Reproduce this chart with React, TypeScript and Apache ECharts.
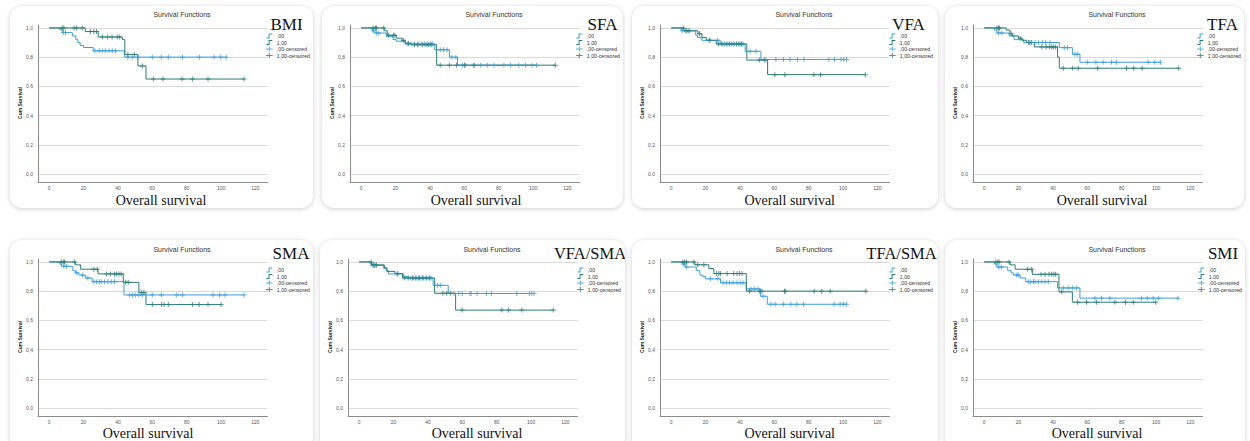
import React, { useEffect, useRef } from "react";
import * as echarts from "echarts";

const BLUE = "#3d9fd8";
const TEAL = "#2d7c78";

const xTicks = [0, 20, 40, 60, 80, 100, 120];
const yTicks = [0, 0.2, 0.4, 0.6, 0.8, 1.0];
const legendNames = [",00", "1,00", ",00-censored", "1,00-censored"];
const chartTitle = "Survival Functions";
const yName = "Cum Survival";
const xName = "Overall survival";

// BMI
const bmiSteps0 = [[0, 1], [6, 0.99], [7.5, 0.968], [13.5, 0.945], [15.5, 0.92], [16.7, 0.9], [18, 0.88], [20, 0.866], [25.6, 0.843], [43.9, 0.8], [103, 0.8]];
const bmiCens0 = [[8.3, 0.968], [9.5, 0.968], [26.6, 0.843], [29.1, 0.843], [30.9, 0.843], [32.6, 0.843], [34.8, 0.843], [36.7, 0.843], [38.6, 0.843], [45.8, 0.8], [48.3, 0.8], [51.7, 0.8], [60, 0.8], [65.2, 0.8], [69.3, 0.8], [77.5, 0.8], [87.4, 0.8], [95.9, 0.8], [99.8, 0.8], [103, 0.8]];
const bmiSteps1 = [[0, 1], [21, 0.975], [28.5, 0.938], [42.5, 0.92], [44, 0.818], [51.6, 0.74], [56.3, 0.65], [113.4, 0.65]];
const bmiCens1 = [[7.6, 1], [8.5, 1], [14.5, 1], [16, 1], [19.2, 1], [24, 0.975], [26, 0.975], [27.5, 0.975], [31, 0.938], [34, 0.938], [36.6, 0.938], [39.6, 0.938], [41, 0.938], [45.8, 0.818], [49.5, 0.818], [54.2, 0.74], [60.6, 0.65], [66.2, 0.65], [77.3, 0.65], [83.3, 0.65], [92.4, 0.65], [113.4, 0.65]];

// SFA
const sfaSteps0 = [[0, 1], [6.4, 0.98], [7.9, 0.965], [14.6, 0.94], [18.5, 0.92], [20.4, 0.909], [25.6, 0.89], [42.8, 0.85], [51.3, 0.8], [56, 0.745], [102, 0.745]];
const sfaCens0 = [[7, 0.98], [9, 0.965], [10.2, 0.965], [27.2, 0.89], [29.1, 0.89], [31, 0.89], [33, 0.89], [34.9, 0.89], [36.8, 0.89], [38.7, 0.89], [40.3, 0.89], [41.6, 0.89], [46, 0.85], [47.9, 0.85], [49.9, 0.85], [52.8, 0.8], [55.1, 0.8], [59, 0.745], [60.3, 0.745], [65.3, 0.745], [69.6, 0.745], [73.4, 0.745], [77.3, 0.745], [83, 0.745], [86.9, 0.745], [91.7, 0.745], [95.6, 0.745], [99.4, 0.745], [102, 0.745]];
const sfaSteps1 = [[0, 1], [13.7, 0.98], [15.2, 0.95], [20.4, 0.93], [23.7, 0.915], [25.6, 0.895], [29, 0.885], [43.9, 0.745], [112.9, 0.745]];
const sfaCens1 = [[6.9, 1], [8.3, 1], [8.9, 1], [13.1, 1], [16, 0.95], [18.7, 0.95], [19.6, 0.95], [24.5, 0.915], [27.5, 0.895], [31, 0.885], [33, 0.885], [35.8, 0.885], [37.8, 0.885], [39.3, 0.885], [40.7, 0.885], [46, 0.745], [51.3, 0.745], [55.5, 0.745], [60.3, 0.745], [65.7, 0.745], [112.9, 0.745]];

// VFA
const vfaSteps0 = [[0, 1], [6, 0.98], [14.3, 0.95], [15.3, 0.935], [17.9, 0.915], [28.5, 0.89], [43, 0.84], [52.2, 0.784], [102, 0.784]];
const vfaCens0 = [[6.4, 0.98], [8.3, 0.98], [9.8, 0.98], [22, 0.915], [27, 0.915], [29.5, 0.89], [31, 0.89], [33, 0.89], [35, 0.89], [37, 0.89], [39, 0.89], [40.5, 0.89], [41.8, 0.89], [46, 0.84], [49.3, 0.84], [55, 0.784], [60.9, 0.784], [65.3, 0.784], [69.2, 0.784], [73.4, 0.784], [77.3, 0.784], [91.7, 0.784], [95, 0.784], [98.8, 0.784], [100.4, 0.784], [102, 0.784]];
const vfaSteps1 = [[0, 1], [7.5, 0.98], [15.6, 0.96], [17.9, 0.935], [20.4, 0.915], [26.2, 0.89], [44, 0.78], [56.1, 0.68], [112.9, 0.68]];
const vfaCens1 = [[7, 1], [9, 0.98], [10.5, 0.98], [16.5, 0.96], [22.5, 0.915], [27.5, 0.89], [29.5, 0.89], [32, 0.89], [34, 0.89], [36, 0.89], [38, 0.89], [39.5, 0.89], [41, 0.89], [51.3, 0.78], [54.1, 0.78], [60.3, 0.68], [66.1, 0.68], [83, 0.68], [86.9, 0.68], [112.9, 0.68]];

// TFA
const tfaSteps0 = [[0, 1], [6, 0.985], [7.4, 0.965], [14.5, 0.945], [17.4, 0.92], [23, 0.9], [43.7, 0.865], [51.3, 0.82], [55.7, 0.765], [102.5, 0.765]];
const tfaCens0 = [[8.3, 0.965], [10.3, 0.965], [26.3, 0.9], [27.7, 0.9], [29.6, 0.9], [31.5, 0.9], [33.8, 0.9], [35.8, 0.9], [38.3, 0.9], [46.6, 0.865], [48.5, 0.865], [52.8, 0.82], [54.4, 0.82], [60, 0.765], [65, 0.765], [69.2, 0.765], [74.1, 0.765], [77, 0.765], [95.4, 0.765], [99.2, 0.765], [102.5, 0.765]];
const tfaSteps1 = [[0, 1], [12.8, 0.985], [15, 0.96], [16.4, 0.945], [19.9, 0.93], [22, 0.915], [24.8, 0.9], [29.2, 0.87], [42.7, 0.8], [43.7, 0.724], [113.2, 0.724]];
const tfaCens1 = [[7.4, 1], [8.3, 1], [8.9, 1], [15.7, 0.96], [21, 0.93], [25.9, 0.9], [27.3, 0.9], [33.5, 0.87], [36, 0.87], [37.9, 0.87], [39.3, 0.87], [40.2, 0.87], [41.6, 0.87], [46, 0.724], [51.5, 0.724], [54.7, 0.724], [66, 0.724], [82.8, 0.724], [87, 0.724], [91.9, 0.724], [113.2, 0.724]];

// SMA
const smaSteps0 = [[0, 1], [6.2, 0.985], [7.2, 0.97], [13.8, 0.94], [15.3, 0.925], [17.3, 0.91], [21, 0.89], [25, 0.865], [43.5, 0.774], [113.4, 0.774]];
const smaCens0 = [[8.5, 0.97], [10, 0.97], [16, 0.925], [19.5, 0.91], [22.5, 0.89], [26, 0.865], [27.6, 0.865], [29.1, 0.865], [30.3, 0.865], [32.2, 0.865], [34.2, 0.865], [36.1, 0.865], [38, 0.865], [46.8, 0.774], [48.5, 0.774], [50.3, 0.774], [52.2, 0.774], [54.2, 0.774], [60, 0.774], [65.2, 0.774], [74.2, 0.774], [77.5, 0.774], [95.3, 0.774], [99.2, 0.774], [102.3, 0.774], [113.4, 0.774]];
const smaSteps1 = [[0, 1], [15.3, 0.98], [18.3, 0.95], [28.4, 0.918], [43.1, 0.86], [52.2, 0.79], [56.3, 0.708], [100, 0.708]];
const smaCens1 = [[7, 1], [8.2, 1], [8.9, 1], [14.8, 1], [26, 0.95], [28, 0.95], [33.4, 0.918], [35.7, 0.918], [38, 0.918], [39.2, 0.918], [40.6, 0.918], [41.9, 0.918], [44.5, 0.86], [46, 0.86], [53.6, 0.79], [55.1, 0.79], [60, 0.708], [65.4, 0.708], [66.8, 0.708], [69.3, 0.708], [83.3, 0.708], [87.2, 0.708], [92.4, 0.708], [100, 0.708]];

// VFA/SMA
const vsSteps0 = [[0, 1], [6.4, 0.985], [7.3, 0.975], [14.3, 0.955], [15.6, 0.94], [17, 0.918], [25.8, 0.9], [28.7, 0.89], [43, 0.84], [51.8, 0.784], [101.7, 0.784]];
const vsCens0 = [[7.9, 0.975], [8.9, 0.975], [9.8, 0.975], [22, 0.918], [30, 0.89], [31.5, 0.89], [33, 0.89], [34.5, 0.89], [36, 0.89], [37.5, 0.89], [39, 0.89], [40.5, 0.89], [41.8, 0.89], [45.5, 0.84], [47.4, 0.84], [55.1, 0.784], [58, 0.784], [59.9, 0.784], [64.4, 0.784], [65.1, 0.784], [68.6, 0.784], [74, 0.784], [76.9, 0.784], [91.7, 0.784], [99, 0.784], [100.4, 0.784], [101.7, 0.784]];
const vsSteps1 = [[0, 1], [7.3, 0.98], [14.6, 0.96], [16.2, 0.935], [20.8, 0.92], [25.2, 0.89], [43.9, 0.785], [56.1, 0.67], [112.9, 0.67]];
const vsCens1 = [[7, 1], [8.5, 0.98], [10, 0.98], [22.5, 0.92], [26.5, 0.89], [28.5, 0.89], [31, 0.89], [33, 0.89], [35, 0.89], [37, 0.89], [39, 0.89], [41, 0.89], [48.7, 0.785], [50.9, 0.785], [53.2, 0.785], [59.9, 0.67], [83, 0.67], [86.9, 0.67], [94.6, 0.67], [112.9, 0.67]];

// TFA/SMA
const tsSteps0 = [[0, 1], [6.8, 0.985], [8, 0.965], [14.6, 0.94], [16.7, 0.91], [18.4, 0.9], [20, 0.884], [28.7, 0.857], [43.7, 0.815], [52, 0.765], [55.9, 0.71], [102.1, 0.71]];
const tsCens0 = [[7.3, 0.985], [9, 0.965], [22.8, 0.884], [27.1, 0.884], [30.2, 0.857], [32.1, 0.857], [34, 0.857], [36, 0.857], [38.3, 0.857], [40.2, 0.857], [41.8, 0.857], [46.4, 0.815], [48.4, 0.815], [50.5, 0.815], [53.5, 0.765], [58, 0.71], [60.5, 0.71], [65.4, 0.71], [69.6, 0.71], [73.1, 0.71], [77, 0.71], [94.8, 0.71], [98.3, 0.71], [100.2, 0.71], [102.1, 0.71]];
const tsSteps1 = [[0, 1], [13.8, 0.98], [21.9, 0.955], [24.8, 0.92], [43.7, 0.8], [113.3, 0.8]];
const tsCens1 = [[6.8, 1], [7.9, 1], [8.9, 1], [13.2, 1], [15.5, 0.98], [19, 0.98], [26.3, 0.92], [27.7, 0.92], [28.6, 0.92], [32.5, 0.92], [36.4, 0.92], [38.3, 0.92], [39.8, 0.92], [41.2, 0.92], [45.6, 0.8], [51.5, 0.8], [52.8, 0.8], [66, 0.8], [66.3, 0.8], [83.2, 0.8], [87.6, 0.8], [92.5, 0.8], [113.3, 0.8]];

// SMI
const smiSteps0 = [[0, 1], [6, 0.985], [7.4, 0.965], [13.7, 0.94], [15.7, 0.925], [17, 0.91], [20.9, 0.89], [24.2, 0.865], [42.7, 0.822], [55.7, 0.752], [112.8, 0.752]];
const smiCens0 = [[8.5, 0.965], [10, 0.965], [19, 0.91], [19.8, 0.91], [25.7, 0.865], [27.1, 0.865], [28.6, 0.865], [29.6, 0.865], [31.5, 0.865], [33.5, 0.865], [35.4, 0.865], [37.3, 0.865], [46, 0.822], [48.9, 0.822], [51.5, 0.822], [53.8, 0.822], [64.4, 0.752], [68.3, 0.752], [73.1, 0.752], [91.5, 0.752], [94.8, 0.752], [98.3, 0.752], [101.5, 0.752], [112.8, 0.752]];
const smiSteps1 = [[0, 1], [15.1, 0.98], [18, 0.95], [28, 0.915], [43.5, 0.795], [51.3, 0.724], [99.8, 0.724]];
const smiCens1 = [[6.8, 1], [7.9, 1], [8.7, 1], [14.5, 1], [25.3, 0.95], [27.7, 0.95], [33.1, 0.915], [35.4, 0.915], [37.7, 0.915], [39.3, 0.915], [40.6, 0.915], [41.6, 0.915], [45.1, 0.795], [54.4, 0.724], [59.6, 0.724], [65.4, 0.724], [76, 0.724], [82.2, 0.724], [86.7, 0.724], [99.8, 0.724]];

const panels = [
  { label: "BMI", left: 10, top: 6, width: 303, height: 202, labelX: 276.5, labelY: 18.5, titleY: 8.3, xLabelX: 151, xLabelY: 194, s0: bmiSteps0, c0: bmiCens0, s1: bmiSteps1, c1: bmiCens1 },
  { label: "SFA", left: 322, top: 6, width: 301, height: 202, labelX: 280.5, labelY: 18.5, titleY: 8.3, xLabelX: 154, xLabelY: 194, s0: sfaSteps0, c0: sfaCens0, s1: sfaSteps1, c1: sfaCens1 },
  { label: "VFA", left: 632, top: 6, width: 306, height: 202, labelX: 276.5, labelY: 18.5, titleY: 8.3, xLabelX: 157.7, xLabelY: 194, s0: vfaSteps0, c0: vfaCens0, s1: vfaSteps1, c1: vfaCens1 },
  { label: "TFA", left: 945, top: 6, width: 299, height: 202, labelX: 277.5, labelY: 18.5, titleY: 8.3, xLabelX: 157, xLabelY: 194, s0: tfaSteps0, c0: tfaCens0, s1: tfaSteps1, c1: tfaCens1 },
  { label: "SMA", left: 10, top: 240, width: 303, height: 210, labelX: 281, labelY: 13.3, titleY: 9, xLabelX: 138, xLabelY: 193.3, s0: smaSteps0, c0: smaCens0, s1: smaSteps1, c1: smaCens1 },
  { label: "VFA/SMA", left: 320, top: 240, width: 305, height: 210, labelX: 270, labelY: 13.3, titleY: 9, xLabelX: 157, xLabelY: 193.3, s0: vsSteps0, c0: vsCens0, s1: vsSteps1, c1: vsCens1 },
  { label: "TFA/SMA", left: 632, top: 240, width: 306, height: 210, labelX: 269.5, labelY: 13.3, titleY: 9, xLabelX: 157.7, xLabelY: 193.3, s0: tsSteps0, c0: tsCens0, s1: tsSteps1, c1: tsCens1 },
  { label: "SMI", left: 945, top: 240, width: 300, height: 210, labelX: 278, labelY: 13.3, titleY: 9, xLabelX: 152, xLabelY: 193.3, s0: smiSteps0, c0: smiCens0, s1: smiSteps1, c1: smiCens1 },
];

const PLUS = "path://M4,0H6V4H10V6H6V10H4V6H0V4H4Z";
const STEP_ICON = "path://M0,8H4.5V0H12V2H6.5V10H0Z";
const CENS_ICON = "path://M0,4H12V6H0Z M5,0.5H7V9.5H5Z";
const SANS = "Liberation Sans, Arial, sans-serif";
const SERIF = "Liberation Serif, Times New Roman, serif";

function buildOption(p: any) {
  const axisColor = "#8c8c8c";
  const legendLeft = Math.min(257, p.width - 47);
  const labelSize = p.label.length > 4 ? 16.5 : 17;
  return {
    animation: false,
    textStyle: { fontFamily: SANS },
    grid: { left: 28, top: 19, width: 229.5, height: 157, containLabel: false, outerBoundsMode: "none" },
    xAxis: {
      type: "value",
      min: -6.5,
      max: 127,
      axisLine: { show: true, onZero: false, lineStyle: { color: axisColor, width: 1 } },
      axisTick: { show: false, customValues: xTicks },
      axisLabel: { customValues: xTicks, fontSize: 5, color: "#555", margin: 3, fontFamily: SANS },
      splitLine: { show: false },
    },
    yAxis: {
      type: "value",
      min: -0.055,
      max: 1.02,
      axisLine: { show: true, onZero: false, lineStyle: { color: axisColor, width: 1 } },
      axisTick: { show: false, customValues: yTicks },
      axisLabel: {
        customValues: yTicks,
        fontSize: 5,
        color: "#555",
        margin: 5,
        fontFamily: SANS,
        formatter: (v: number) => v.toFixed(1).replace(".", ","),
      },
      splitLine: { show: true, lineStyle: { color: "#d9d9d9", width: 1 } },
    },
    legend: {
      orient: "vertical",
      left: legendLeft,
      top: 27.5,
      padding: 0,
      itemWidth: 9,
      itemHeight: 5,
      itemGap: 1.5,
      selectedMode: false,
      textStyle: { fontSize: 5.2, color: "#333", fontFamily: SANS, padding: [0, 0, 0, -2] },
      data: [
        { name: legendNames[0], icon: STEP_ICON },
        { name: legendNames[1], icon: STEP_ICON },
        { name: legendNames[2], icon: CENS_ICON },
        { name: legendNames[3], icon: CENS_ICON },
      ],
    },
    graphic: [
      { type: "text", x: 172, y: p.titleY, style: { text: chartTitle, fontSize: 7, fontFamily: SANS, fill: "#333", align: "center", verticalAlign: "middle" } },
      { type: "text", x: p.labelX, y: p.labelY, style: { text: p.label, fontSize: labelSize, fontFamily: SERIF, fill: "#111", align: "center", verticalAlign: "middle" } },
      { type: "text", x: p.xLabelX, y: p.xLabelY, style: { text: xName, fontSize: 14, fontFamily: SERIF, fill: "#111", align: "center", verticalAlign: "middle" } },
      { type: "text", x: 10, y: 97, rotation: Math.PI / 2, style: { text: yName, fontSize: 5, fontWeight: "bold", fontFamily: SANS, fill: "#222", align: "center", verticalAlign: "middle" } },
    ],
    series: [
      { name: legendNames[0], type: "line", step: "end", data: p.s0, symbol: "none", lineStyle: { color: BLUE, width: 1 }, itemStyle: { color: BLUE }, z: 2 },
      { name: legendNames[1], type: "line", step: "end", data: p.s1, symbol: "none", lineStyle: { color: TEAL, width: 1 }, itemStyle: { color: TEAL }, z: 2 },
      { name: legendNames[2], type: "scatter", data: p.c0, symbol: PLUS, symbolSize: 5, itemStyle: { color: BLUE }, z: 3 },
      { name: legendNames[3], type: "scatter", data: p.c1, symbol: PLUS, symbolSize: 5, itemStyle: { color: TEAL }, z: 3 },
    ],
  };
}

function Panel({ p }: { p: any }) {
  const ref = useRef<HTMLDivElement>(null);
  useEffect(() => {
    if (!ref.current) return;
    const chart = echarts.init(ref.current, undefined, { renderer: "svg", width: p.width, height: p.height });
    chart.setOption(buildOption(p) as any);
    return () => chart.dispose();
  }, [p]);
  return (
    <div
      style={{
        position: "absolute",
        left: p.left,
        top: p.top,
        width: p.width,
        height: p.height,
        background: "#fff",
        borderRadius: 12,
        boxShadow: "0 1px 5px rgba(0,0,0,0.2)",
        overflow: "hidden",
      }}
    >
      <div ref={ref} style={{ width: p.width, height: p.height }} />
    </div>
  );
}

export default function App() {
  return (
    <div style={{ position: "fixed", left: 0, top: 0, width: 1250, height: 441, overflow: "hidden", background: "#fff" }}>
      {panels.map((p) => (
        <Panel key={p.label} p={p} />
      ))}
    </div>
  );
}
